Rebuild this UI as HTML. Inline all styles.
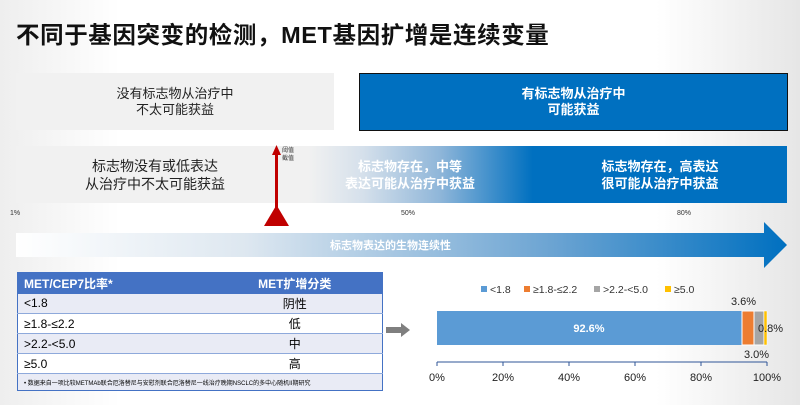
<!DOCTYPE html>
<html><head><meta charset="utf-8"><style>
*{margin:0;padding:0;box-sizing:border-box}
body{width:800px;height:405px;overflow:hidden;position:relative;font-family:"Liberation Sans","Noto Sans CJK SC",sans-serif;background:linear-gradient(90deg,#eeeeee 0%,#fff 15%,#fff 82%,#e6e6e6 100%)}
.a{position:absolute}
.c{display:flex;align-items:center;justify-content:center;text-align:center}
table{border-collapse:collapse}
</style></head><body>
<div class="a" style="left:16px;top:16px;font-size:23.5px;font-weight:bold;color:#111;letter-spacing:0.6px">不同于基因突变的检测，MET基因扩增是连续变量</div>
<div class="a c" style="left:16px;top:73px;width:318px;height:57px;background:#f1f1f1;font-size:13px;line-height:16px;color:#222">没有标志物从治疗中<br>不太可能获益</div>
<div class="a c" style="left:359px;top:73px;width:429px;height:58px;background:#0070c0;border:1px solid #111;font-size:13px;line-height:16px;color:#fff;font-weight:bold">有标志物从治疗中<br>可能获益</div>
<div class="a" style="left:16px;top:146px;width:771px;height:57px;background:linear-gradient(90deg,#f1f1f1 0%,#f1f1f1 38%,#d5e0eb 45%,#8fb6d9 55%,#0070c0 67%,#0070c0 100%)"></div>
<div class="a c" style="left:40px;top:146px;width:230px;height:57px;font-size:14px;line-height:18px;color:#222">标志物没有或低表达<br>从治疗中不太可能获益</div>
<div class="a c" style="left:330px;top:146px;width:160px;height:57px;font-size:13px;line-height:17px;color:#fff;font-weight:bold">标志物存在，中等<br>表达可能从治疗中获益</div>
<div class="a c" style="left:590px;top:146px;width:140px;height:57px;font-size:13px;line-height:17px;color:#fff;font-weight:bold">标志物存在，高表达<br>很可能从治疗中获益</div>
<svg class="a" style="left:0;top:0" width="800" height="405">
<rect x="275" y="152" width="3" height="60" fill="#c00000"/>
<polygon points="276.5,145 272,155 281,155" fill="#c00000"/>
<polygon points="276.5,205 264,226 289,226" fill="#c00000"/>
<defs><linearGradient id="g" x1="0" x2="1"><stop offset="0" stop-color="#fff"/><stop offset="0.3" stop-color="#dde7f0"/><stop offset="0.7" stop-color="#6aa3d2"/><stop offset="1" stop-color="#0070c0"/></linearGradient></defs>
<polygon points="16,233 764,233 764,222 787,245 764,268 764,257 16,257" fill="url(#g)"/>
<line x1="386" y1="330" x2="402" y2="330" stroke="#7f7f7f" stroke-width="6"/>
<polygon points="401,323 410,330 401,337" fill="#7f7f7f"/>
</svg>
<div class="a" style="left:282px;top:147px;font-size:6px;line-height:8px;color:#333">阈值<br>截值</div>
<div class="a" style="left:10px;top:210px;font-size:7px;color:#333">1%</div>
<div class="a" style="left:401px;top:210px;font-size:7px;color:#333">50%</div>
<div class="a" style="left:677px;top:210px;font-size:7px;color:#333">80%</div>
<div class="a" style="left:330px;top:237px;font-size:11px;color:#fff;font-weight:bold">标志物表达的生物连续性</div>
<table class="a" style="left:17px;top:272px;width:366px;font-size:12px;border:1px solid #4472c4">
<tr style="background:#4472c4;color:#fff;font-weight:bold;height:21px"><td style="padding-left:6px;width:190px">MET/CEP7比率*</td><td style="text-align:center">MET扩增分类</td></tr>
<tr style="background:#e9ebf5;height:20px;border-bottom:1px solid #8ea9db"><td style="padding-left:6px">&lt;1.8</td><td style="text-align:center">阴性</td></tr>
<tr style="background:#fff;height:20px;border-bottom:1px solid #8ea9db"><td style="padding-left:6px">≥1.8-≤2.2</td><td style="text-align:center">低</td></tr>
<tr style="background:#e9ebf5;height:20px;border-bottom:1px solid #8ea9db"><td style="padding-left:6px">&gt;2.2-&lt;5.0</td><td style="text-align:center">中</td></tr>
<tr style="background:#fff;height:20px;border-bottom:1px solid #8ea9db"><td style="padding-left:6px">≥5.0</td><td style="text-align:center">高</td></tr>
<tr style="background:#e9ebf5;height:17px"><td colspan="2" style="padding-left:6px;font-size:6px">• 数据来自一项比较METMAb联合厄洛替尼与安慰剂联合厄洛替尼一线治疗晚期NSCLC的多中心随机II期研究</td></tr>
</table>
<svg class="a" style="left:0;top:0" width="800" height="405" font-family="Liberation Sans, sans-serif">
<g font-size="10.5" fill="#333">
<rect x="481" y="286" width="6" height="6" fill="#5b9bd5"/><text x="490" y="293">&lt;1.8</text>
<rect x="524" y="286" width="6" height="6" fill="#ed7d31"/><text x="533" y="293">≥1.8-≤2.2</text>
<rect x="594" y="286" width="6" height="6" fill="#a5a5a5"/><text x="603" y="293">&gt;2.2-&lt;5.0</text>
<rect x="665" y="286" width="6" height="6" fill="#ffc000"/><text x="674" y="293">≥5.0</text>
</g>
<rect x="437" y="311" width="305" height="34" fill="#5b9bd5"/>
<rect x="742" y="311" width="12" height="34" fill="#ed7d31" stroke="#fff"/>
<rect x="754" y="311" width="10" height="34" fill="#a5a5a5" stroke="#fff"/>
<rect x="764" y="311" width="3" height="34" fill="#ffc000" stroke="#fff" stroke-width="0.5"/>
<text x="589" y="332" font-size="11" fill="#fff" font-weight="bold" text-anchor="middle">92.6%</text>
<g font-size="11" fill="#222">
<text x="731" y="305">3.6%</text>
<text x="758" y="332">0.8%</text>
<text x="744" y="358">3.0%</text>
</g>
<line x1="437" y1="362" x2="767" y2="362" stroke="#2f5597" stroke-width="1"/>
<g stroke="#2f5597"><line x1="437" y1="362" x2="437" y2="366"/><line x1="503" y1="362" x2="503" y2="366"/><line x1="569" y1="362" x2="569" y2="366"/><line x1="635" y1="362" x2="635" y2="366"/><line x1="701" y1="362" x2="701" y2="366"/><line x1="767" y1="362" x2="767" y2="366"/></g>
<g font-size="11" fill="#222" text-anchor="middle">
<text x="437" y="381">0%</text><text x="503" y="381">20%</text><text x="569" y="381">40%</text><text x="635" y="381">60%</text><text x="701" y="381">80%</text><text x="767" y="381">100%</text>
</g>
</svg>
</body></html>
